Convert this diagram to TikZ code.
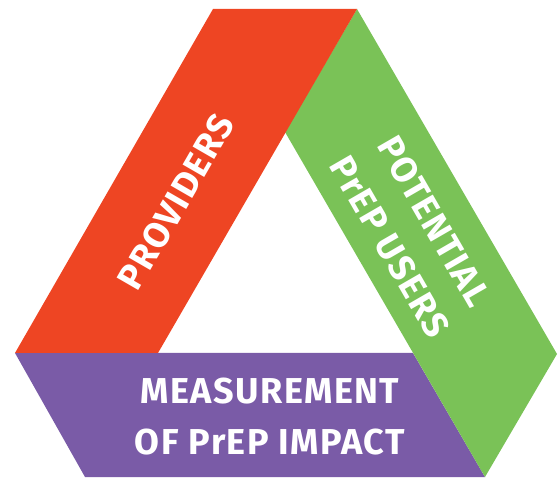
\documentclass[tikz,border=0pt]{standalone}
\usepackage{fontspec}
\setsansfont{Fira Sans}[LetterSpace=4]
\definecolor{provider color}{RGB}{238,69,35}
\definecolor{user color}{RGB}{122,194,87}
\definecolor{impact color}{RGB}{122,91,167}

\begin{document}
\begin{tikzpicture}[x=1pt, y=1pt, font=\sffamily\bfseries\fontsize{36}{51}\selectfont]
	\useasboundingbox (0,0) rectangle (560,477);
	\path [fill=impact color] (15,124) -- (413,124) -- (485,0) -- (85,0) -- cycle;
	\path [fill=user color] (357,468) -- (557,123) -- (485,0) -- (285,345) -- cycle;
	\path [fill=provider color] (15,124) -- (213,468) -- (357,468) -- (158,124) -- cycle;

	\begin{scope}[white]
		\node (providers) at (176,275) [rotate=60] {PROVIDERS};
		\node (users) at (412,243) [rotate=-60, align=center] {POTENTIAL\\PrEP USERS};
		\node (impact) at (270,60) [align=center] {MEASUREMENT\\OF PrEP IMPACT};
	\end{scope}
\end{tikzpicture}
\end{document}
